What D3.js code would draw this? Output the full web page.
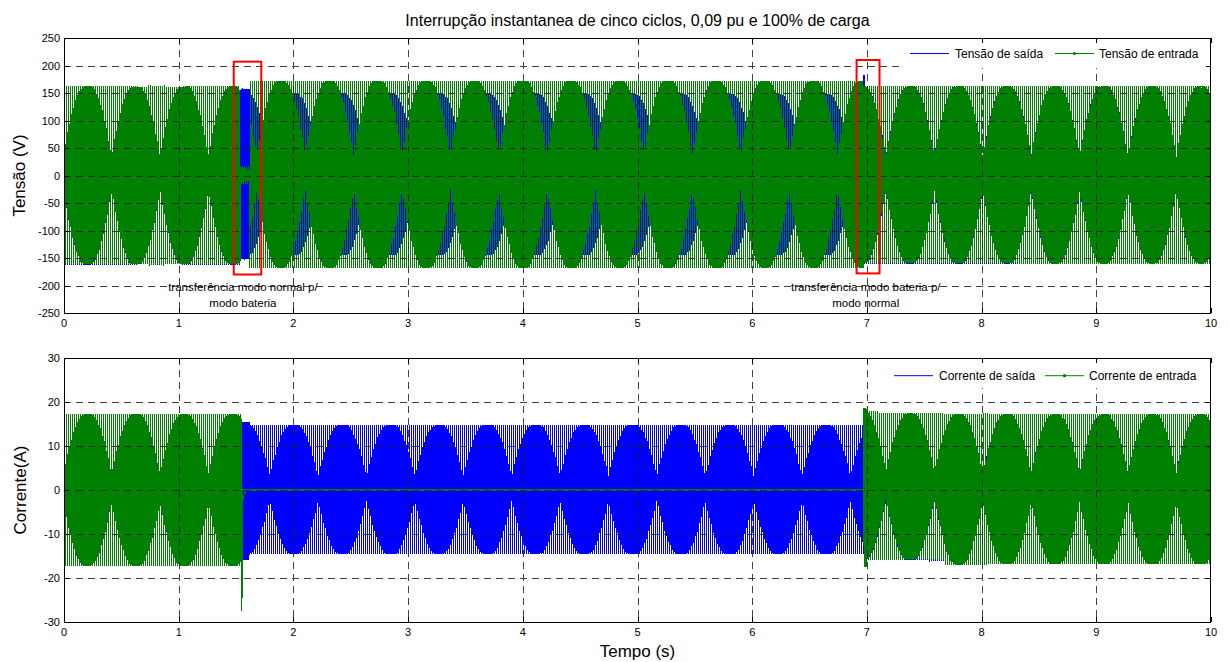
<!DOCTYPE html>
<html>
<head>
<meta charset="utf-8">
<script src="https://cdn.jsdelivr.net/npm/d3@7"></script>
<style>
  html, body { margin: 0; padding: 0; background: #fff; }
  svg { display: block; font-family: "Liberation Sans", Arial, sans-serif; }
</style>
</head>
<body>
<svg id="chart" width="1229" height="662"></svg>
<script>
// ---------------- DATA ----------------
// apparent cycle rate of the plotted AC waveforms (reproduces the beat pattern seen in the figure)
const cycleRateHz = 58.535;
const timeTicks = [0,1,2,3,4,5,6,7,8,9,10];
const voltTicks = [-250,-200,-150,-100,-50,0,50,100,150,200,250];
const currTicks = [-30,-20,-10,0,10,20,30];

// Output voltage (blue): envelope segments [start, end] with upper/lower peak
const vOutStart = [0,     1.535, 1.618, 6.972, 6.986];
const vOutEnd   = [1.535, 1.618, 6.972, 6.986, 10];
const vOutTop   = [162,   158,   148,   183,   162];
const vOutBot   = [-162,  -152,  -145,  -160,  -160];
const vOutPhase = [0,     -0.832, -0.832, 0,   0];

// Input voltage (green)
const vInStart = [0,     1.535, 1.618, 6.972];
const vInEnd   = [1.535, 1.618, 6.972, 10];
const vInTop   = [162,   16,    172,   162];
const vInBot   = [-161,  -14,   -168,  -160];
const vInPhase = [0,     0,     0,     0];

// Output current (blue)
const iOutStart = [0,     1.547, 1.62,  6.968, 6.985];
const iOutEnd   = [1.547, 1.62,  6.968, 6.985, 10];
const iOutTop   = [16.5,  15.4,  14.8,  18.6,  17.0];
const iOutBot   = [-16.5, -15.8, -14.6, -15.3, -16.0];
const iOutPhase = [0,     -0.832, -0.832, 0,   0];

// Input current (green)
const iInStart = [0,     1.545, 1.553, 6.968, 7.0,   7.1,   7.67];
const iInEnd   = [1.545, 1.553, 6.968, 7.0,   7.1,   7.67,  10];
const iInTop   = [17.2,  29.0,  0,     18.6,  18.0,  17.4,  17.2];
const iInBot   = [-17.2, -27.5, 0,     -17.5, -15.8, -15.8, -16.9];
const iInPhase = [0,     0,     0,     0,     0,     0,     0];
// small input-current transient after the interruption
const iInTransT = [1.553, 1.558, 1.566, 1.578, 1.592, 1.61];
const iInTransV = [-4.0,  -2.6,  -1.4,  -0.6,  -0.1,  0];

// Transfer annotations
const boxT0 = [1.48, 6.91];
const boxT1 = [1.72, 7.11];
const boxV0 = [-180, -178];
const boxV1 = [207, 210];
const noteT = [1.56, 6.99];
const noteLine1 = ["transferência modo normal p/", "transferência modo bateria p/"];
const noteLine2 = ["modo bateria", "modo normal"];
const noteV1 = [-202, -202];
const noteV2 = [-231, -231];

const titleText = "Interrupção instantanea de cinco ciclos, 0,09 pu e 100% de carga";
const legendTop = ["Tensão de saída", "Tensão de entrada"];
const legendBot = ["Corrente de saída", "Corrente de entrada"];

// ---------------- DRAWING ----------------
const svg = d3.select("#chart");
const BLUE = "#0000ff", GREEN = "#008000";
const samplesPerCycle = 40;

function wave(starts, ends, tops, bots, phases) {
  const pts = [];
  for (let i = 0; i < starts.length; i++) {
    const t0 = starts[i], t1 = ends[i];
    const n = Math.max(2, Math.ceil((t1 - t0) * cycleRateHz * samplesPerCycle));
    const mid = (tops[i] + bots[i]) / 2, amp = (tops[i] - bots[i]) / 2;
    for (let k = 0; k <= n; k++) {
      const t = t0 + (t1 - t0) * k / n;
      pts.push([t, mid + amp * Math.sin(2 * Math.PI * cycleRateHz * t + phases[i])]);
    }
  }
  return pts;
}

const leftPx = 64, rightPx = 1211;
const x = d3.scaleLinear().domain([0, 10]).range([leftPx, rightPx]);

function panel(id, topPx, bottomPx, yDomain, yTicks, series, yLabel, yLabelX, legendNames, legBox) {
  const y = d3.scaleLinear().domain(yDomain).range([bottomPx, topPx]);
  const g = svg.append("g");
  g.append("clipPath").attr("id", id).append("rect")
    .attr("x", leftPx).attr("y", topPx).attr("width", rightPx - leftPx).attr("height", bottomPx - topPx);
  const dg = g.append("g").attr("clip-path", `url(#${id})`);
  const line = d3.line().x(d => x(d[0])).y(d => y(d[1]));
  series.forEach(s => {
    dg.append("path").attr("d", line(s.pts)).attr("fill", "none")
      .attr("stroke", s.color).attr("stroke-width", 1.1)
      .attr("shape-rendering", "crispEdges");
  });
  // grid (on top of data, MATLAB style)
  const gg = g.append("g").attr("stroke", "#222").attr("stroke-width", 1).attr("stroke-dasharray", "7,5").attr("opacity", 0.85);
  timeTicks.slice(1, -1).forEach(t => gg.append("line")
    .attr("x1", Math.round(x(t)) + 0.5).attr("x2", Math.round(x(t)) + 0.5).attr("y1", topPx).attr("y2", bottomPx));
  yTicks.slice(1, -1).forEach(v => gg.append("line")
    .attr("x1", leftPx).attr("x2", rightPx).attr("y1", Math.round(y(v)) + 0.5).attr("y2", Math.round(y(v)) + 0.5));
  // legend
  g.append("rect").attr("x", legBox[0]).attr("y", legBox[1]).attr("width", legBox[2]).attr("height", legBox[3]).attr("fill", "#fff");
  const ly = legBox[4];
  g.append("line").attr("x1", legBox[5]).attr("x2", legBox[5] + 39).attr("y1", ly).attr("y2", ly).attr("stroke", BLUE).attr("stroke-width", 1);
  g.append("text").attr("x", legBox[5] + 45).attr("y", ly + 4.2).attr("font-size", 12).attr("fill", "#000").text(legendNames[0]);
  g.append("line").attr("x1", legBox[6]).attr("x2", legBox[6] + 39).attr("y1", ly).attr("y2", ly).attr("stroke", GREEN).attr("stroke-width", 1);
  g.append("circle").attr("cx", legBox[6] + 19.5).attr("cy", ly).attr("r", 1.6).attr("fill", GREEN);
  g.append("text").attr("x", legBox[6] + 44).attr("y", ly + 4.2).attr("font-size", 12).attr("fill", "#000").text(legendNames[1]);
  // axes box + ticks
  const ax = g.append("g").attr("stroke", "#000").attr("stroke-width", 1);
  ax.append("rect").attr("x", leftPx + 0.5).attr("y", topPx + 0.5).attr("width", rightPx - leftPx - 1).attr("height", bottomPx - topPx).attr("fill", "none");
  timeTicks.forEach(t => {
    const px = Math.round(x(t)) + 0.5;
    ax.append("line").attr("x1", px).attr("x2", px).attr("y1", bottomPx).attr("y2", bottomPx - 5);
    ax.append("line").attr("x1", px).attr("x2", px).attr("y1", topPx).attr("y2", topPx + 5);
  });
  yTicks.forEach(v => {
    const py = Math.round(y(v)) + 0.5;
    ax.append("line").attr("x1", leftPx).attr("x2", leftPx + 5).attr("y1", py).attr("y2", py);
    ax.append("line").attr("x1", rightPx).attr("x2", rightPx - 5).attr("y1", py).attr("y2", py);
  });
  const tl = g.append("g").attr("font-size", 11).attr("fill", "#000");
  timeTicks.forEach(t => tl.append("text").attr("x", x(t)).attr("y", bottomPx + 14).attr("text-anchor", "middle").text(t));
  yTicks.forEach(v => tl.append("text").attr("x", 60).attr("y", y(v) + 4).attr("text-anchor", "end").text(v));
  g.append("text").attr("transform", `translate(${yLabelX},${(topPx + bottomPx) / 2}) rotate(-90)`)
    .attr("text-anchor", "middle").attr("font-size", 17).attr("fill", "#000").text(yLabel);
  return { g, y };
}

// Top panel: voltages
const topPanel = panel("clipTop", 38, 313, [-250, 250], voltTicks, [
  { pts: wave(vOutStart, vOutEnd, vOutTop, vOutBot, vOutPhase), color: BLUE },
  { pts: wave(vInStart, vInEnd, vInTop, vInBot, vInPhase), color: GREEN }
], "Tensão (V)", 25, legendTop, [902, 40, 306, 28, 53.5, 910, 1055]);

// annotations
boxT0.forEach((t, i) => {
  topPanel.g.append("rect")
    .attr("x", x(t)).attr("y", topPanel.y(boxV1[i]))
    .attr("width", x(boxT1[i]) - x(t)).attr("height", topPanel.y(boxV0[i]) - topPanel.y(boxV1[i]))
    .attr("fill", "none").attr("stroke", "#ff0000").attr("stroke-width", 2);
  topPanel.g.append("text").attr("x", x(noteT[i])).attr("y", topPanel.y(noteV1[i]) + 4).attr("text-anchor", "middle")
    .attr("font-size", 11.5).attr("fill", "#000").text(noteLine1[i]);
  topPanel.g.append("text").attr("x", x(noteT[i])).attr("y", topPanel.y(noteV2[i]) + 4).attr("text-anchor", "middle")
    .attr("font-size", 11.5).attr("fill", "#000").text(noteLine2[i]);
});

// Bottom panel: currents
const botPanel = panel("clipBot", 358, 622, [-30, 30], currTicks, [
  { pts: wave(iOutStart, iOutEnd, iOutTop, iOutBot, iOutPhase), color: BLUE },
  { pts: wave(iInStart, iInEnd, iInTop, iInBot, iInPhase), color: GREEN },
  { pts: iInTransT.map((t, i) => [t, iInTransV[i]]), color: GREEN }
], "Corrente(A)", 26, legendBot, [886, 360, 322, 28, 375.7, 894, 1045]);

// Titles
svg.append("text").attr("x", (leftPx + rightPx) / 2).attr("y", 26).attr("text-anchor", "middle")
  .attr("font-size", 16).attr("fill", "#000").text(titleText);
svg.append("text").attr("x", (leftPx + rightPx) / 2).attr("y", 657).attr("text-anchor", "middle")
  .attr("font-size", 17).attr("fill", "#000").text("Tempo (s)");
</script>
</body>
</html>
